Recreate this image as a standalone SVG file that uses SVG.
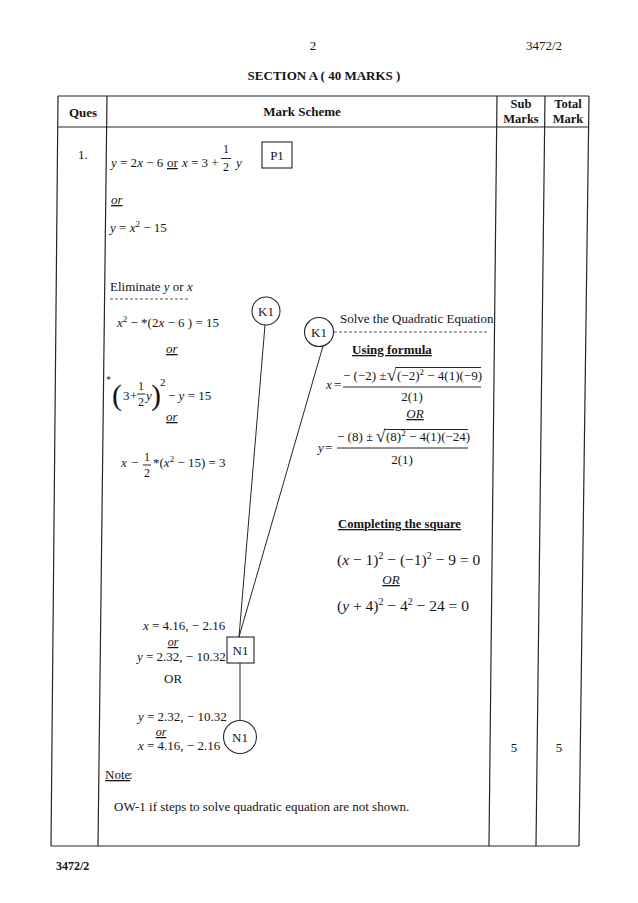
<svg xmlns="http://www.w3.org/2000/svg" width="638" height="903" viewBox="0 0 638 903" font-size="13">
<style>
text { font-family: "Liberation Serif", "Times New Roman", serif; fill: #151515; }
.b { font-weight: bold; }
.i { font-style: italic; }
.u { text-decoration: underline; }
.m { text-anchor: middle; }
.sup { font-size: 9px; }
.big { font-size: 15.5px; }
.hd { font-size: 12.5px; }
.ln { stroke: #262626; stroke-width: 1.2; fill: none; }
.thin { stroke: #262626; stroke-width: 1; fill: none; }
.dash { stroke: #555; stroke-width: 1; stroke-dasharray: 3 2; fill: none; }
.node { fill: #fff; stroke: #262626; stroke-width: 1.1; }
</style>
<rect width="638" height="903" fill="#fff"/>

<!-- page header -->
<text x="313" y="50" class="m">2</text>
<text x="562" y="50" text-anchor="end">3472/2</text>
<text x="324" y="80" class="b m">SECTION A ( 40 MARKS )</text>

<!-- table -->
<g id="table">
  <line class="ln" x1="58" y1="96" x2="589" y2="96"/>
  <line class="ln" x1="58" y1="127" x2="589" y2="127"/>
  <line class="ln" x1="51" y1="846" x2="579" y2="846"/>
  <line class="ln" x1="58" y1="96" x2="51" y2="846"/>
  <line class="ln" x1="107" y1="96" x2="98" y2="846"/>
  <line class="ln" x1="497" y1="96" x2="489" y2="846"/>
  <line class="ln" x1="545" y1="96" x2="536" y2="846"/>
  <line class="ln" x1="589" y1="96" x2="579" y2="846"/>
  <text x="83" y="117" class="b m">Ques</text>
  <text x="302" y="116" class="b m">Mark Scheme</text>
  <text x="521" y="107.5" class="b m hd">Sub</text>
  <text x="521" y="122.5" class="b m hd">Marks</text>
  <text x="568" y="107.5" class="b m hd">Total</text>
  <text x="568" y="122.5" class="b m hd">Mark</text>
  <text x="78" y="159">1.</text>
  <text x="514" y="752" class="m">5</text>
  <text x="559" y="752" class="m">5</text>
</g>

<!-- first line -->
<text x="111" y="167"><tspan class="i">y</tspan> = 2<tspan class="i">x</tspan> − 6</text>
<text x="167" y="167" class="u">or</text>
<text x="182" y="167"><tspan class="i">x</tspan> = 3 +</text>
<text x="226" y="153" class="m" font-size="12">1</text>
<line class="thin" x1="221" y1="158.5" x2="231" y2="158.5"/>
<text x="226" y="171" class="m" font-size="12">2</text>
<text x="236" y="167" class="i">y</text>

<text x="111" y="204" class="i u">or</text>
<text x="110" y="232"><tspan class="i">y</tspan> = <tspan class="i">x</tspan><tspan class="sup" dy="-5">2</tspan><tspan dy="5"> − 15</tspan></text>

<!-- Eliminate -->
<text x="110" y="291">Eliminate <tspan class="i">y</tspan> or <tspan class="i">x</tspan></text>
<line class="dash" x1="110" y1="299" x2="190" y2="299"/>
<text x="117" y="327"><tspan class="i">x</tspan><tspan class="sup" dy="-5">2</tspan><tspan dy="5"> −  *(2</tspan><tspan class="i">x</tspan> − 6 ) = 15</text>
<text x="166" y="353" class="i u">or</text>

<text x="106" y="383" font-size="10">*</text>
<text x="112" y="405" font-size="30">(</text>
<text x="123" y="400">3</text>
<text x="130" y="400">+</text>
<text x="141" y="390" class="m" font-size="12">1</text>
<line class="thin" x1="137" y1="394" x2="145" y2="394"/>
<text x="141" y="406" class="m" font-size="12">2</text>
<text x="146" y="400" class="i">y</text>
<text x="151" y="405" font-size="30">)</text>
<text x="160" y="386" font-size="11">2</text>
<text x="168" y="400">− <tspan class="i">y</tspan>  = 15</text>
<text x="166" y="421" class="i u">or</text>

<text x="121" y="467" class="i">x</text>
<text x="131" y="467">−</text>
<text x="147" y="461" class="m" font-size="12">1</text>
<line class="thin" x1="143" y1="465" x2="151" y2="465"/>
<text x="147" y="477" class="m" font-size="12">2</text>
<text x="153" y="467">*(<tspan class="i">x</tspan><tspan class="sup" dy="-5">2</tspan><tspan dy="5"> − 15) = 3</tspan></text>

<!-- Solve -->
<text x="340" y="323">Solve the Quadratic Equation</text>
<line class="dash" x1="334" y1="332" x2="488" y2="332"/>
<text x="352" y="354" class="b u">Using formula</text>

<text x="326" y="389" class="i">x</text>
<text x="334" y="389">=</text>
<text x="343" y="380">− (−2) ±</text>
<text x="387" y="381" font-size="17">√</text>
<line class="thin" x1="395.5" y1="367.5" x2="481" y2="367.5"/>
<text x="397" y="380">(−2)<tspan class="sup" dy="-5">2</tspan><tspan dy="5"> − 4(1)(−9)</tspan></text>
<line class="thin" x1="343" y1="387" x2="481" y2="387"/>
<text x="412" y="401" class="m">2(1)</text>

<text x="415" y="418" class="i u m">OR</text>

<text x="318" y="452" class="i">y</text>
<text x="325" y="452">=</text>
<text x="337" y="441">− (8) ±</text>
<text x="376" y="442" font-size="17">√</text>
<line class="thin" x1="384.5" y1="429.5" x2="468" y2="429.5"/>
<text x="386" y="441">(8)<tspan class="sup" dy="-5">2</tspan><tspan dy="5"> − 4(1)(−24)</tspan></text>
<line class="thin" x1="337" y1="448" x2="468" y2="448"/>
<text x="402" y="464" class="m">2(1)</text>

<!-- completing square -->
<text x="338" y="528" class="b u" textLength="123" lengthAdjust="spacingAndGlyphs">Completing the square</text>
<text x="337" y="565" class="big">(<tspan class="i">x</tspan> − 1)<tspan font-size="10" dy="-6">2</tspan><tspan dy="6"> − (−1)</tspan><tspan font-size="10" dy="-6">2</tspan><tspan dy="6"> − 9 = 0</tspan></text>
<text x="391" y="584" class="i u m">OR</text>
<text x="337" y="611" class="big">(<tspan class="i">y</tspan> + 4)<tspan font-size="10" dy="-6">2</tspan><tspan dy="6"> − 4</tspan><tspan font-size="10" dy="-6">2</tspan><tspan dy="6"> − 24 = 0</tspan></text>

<!-- answers -->
<text x="143" y="630"><tspan class="i">x</tspan> = 4.16, − 2.16</text>
<text x="173" y="646" class="i u m" font-size="12">or</text>
<text x="137" y="661"><tspan class="i">y</tspan> = 2.32, − 10.32</text>
<text x="164" y="683">OR</text>
<text x="138" y="721"><tspan class="i">y</tspan> = 2.32, − 10.32</text>
<text x="161" y="736" class="i u m" font-size="12">or</text>
<text x="138" y="750"><tspan class="i">x</tspan> =  4.16, − 2.16</text>

<!-- note -->
<text x="105" y="779" class="u">Note</text><text x="129" y="779">:</text>
<text x="114" y="811">OW-1 if steps to solve quadratic equation are not shown.</text>
<text x="56" y="870" class="b" font-size="12">3472/2</text>

<!-- connectors -->
<g id="connectors">
  <line class="thin" x1="265" y1="325" x2="239" y2="637"/>
  <line class="thin" x1="323" y1="346" x2="239" y2="637"/>
  <line class="thin" x1="240" y1="663" x2="240" y2="720.5"/>
</g>

<!-- nodes -->
<g id="P1">
  <rect class="node" x="262" y="142" width="30" height="26"/>
  <text x="277" y="160" class="m">P1</text>
</g>
<g id="K1a">
  <circle class="node" cx="266" cy="311" r="14"/>
  <text x="266" y="316" class="m">K1</text>
</g>
<g id="K1b">
  <circle class="node" cx="319" cy="332" r="14.5"/>
  <text x="319" y="337" class="m">K1</text>
</g>
<g id="N1box">
  <rect class="node" x="227" y="637" width="27" height="26"/>
  <text x="240.5" y="655" class="m">N1</text>
</g>
<g id="N1circle">
  <circle class="node" cx="240" cy="737" r="16.5"/>
  <text x="240" y="742" class="m">N1</text>
</g>
</svg>
